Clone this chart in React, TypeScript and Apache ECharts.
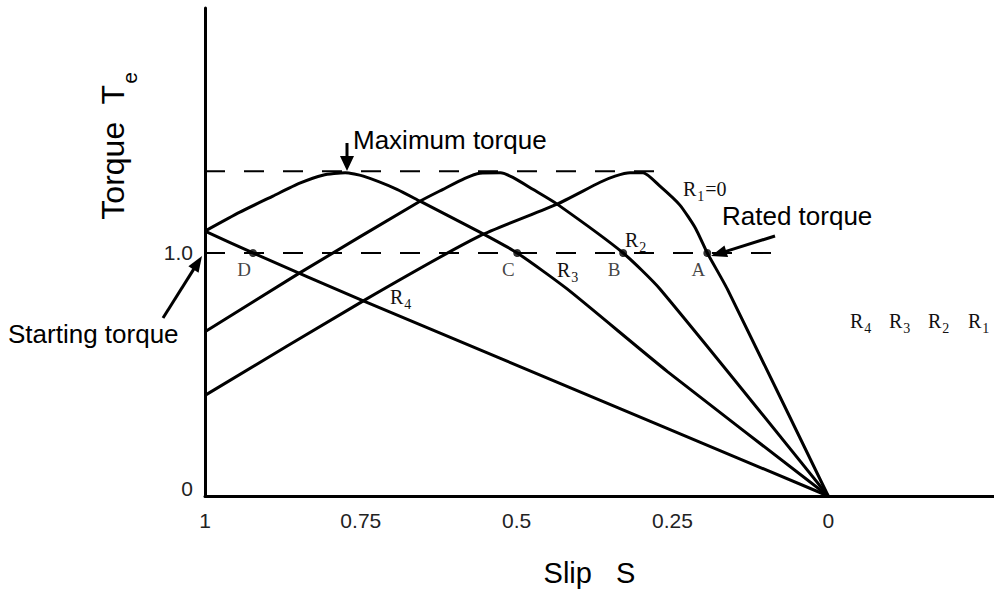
import React, { useEffect, useRef } from 'react';
import * as echarts from 'echarts';

// ---- data (slip S, torque Te) ----
const slipTicks = [1, 0.75, 0.5, 0.25, 0];
const torqueTicks = [0, 1];

const curveR1: [number, number][] = [
  [1, 0.414], [0.746, 0.803], [0.559, 1.07], [0.435, 1.201], [0.366, 1.291],
  [0.342, 1.316], [0.318, 1.33], [0.297, 1.33], [0.27, 1.275], [0.238, 1.197],
  [0.213, 1.102], [0.194, 1.0], [0.162, 0.852], [0, 0],
];
const curveR2: [number, number][] = [
  [1, 0.676], [0.848, 0.918], [0.655, 1.213], [0.618, 1.262], [0.583, 1.307],
  [0.559, 1.328], [0.526, 1.33], [0.506, 1.311], [0.474, 1.262], [0.435, 1.201],
  [0.329, 1.0], [0.27, 0.852], [0, 0],
];
const curveR3: [number, number][] = [
  [1, 1.09], [0.944, 1.168], [0.891, 1.234], [0.848, 1.287], [0.811, 1.32],
  [0.775, 1.33], [0.746, 1.316], [0.692, 1.262], [0.655, 1.213], [0.559, 1.086],
  [0.499, 1.0], [0.419, 0.852], [0.258, 0.512], [0, 0],
];
const curveR4: [number, number][] = [
  [1, 1.09], [0.923, 1.0], [0.746, 0.803], [0.526, 0.566], [0, 0],
];

const maxTorque = 1.336;
const maxLineSlips = [1, 0.278];
const ratedTorque = 1.0;
const ratedLineSlips = [1, 0.085];

const pointNames = ['D', 'C', 'B', 'A'];
const pointSlips = [0.923, 0.499, 0.329, 0.194];

const SANS = 'Liberation Sans, Arial, sans-serif';
const SERIF = 'Liberation Serif, Times New Roman, serif';

function rLabel(sub: string, tail = '') {
  return {
    text: `{r|R}{s|${sub}}` + (tail ? `{r|${tail}}` : ''),
    rich: {
      r: { fontFamily: SERIF, fontSize: 20, fill: '#111', lineHeight: 22, verticalAlign: 'top' },
      s: { fontFamily: SERIF, fontSize: 14, fill: '#111', lineHeight: 14, padding: [10, 1, 0, 1], verticalAlign: 'top' },
    },
    align: 'left',
    verticalAlign: 'middle',
  };
}

function arrowHead(tip: [number, number], tail: [number, number], len = 16, half = 6) {
  const dx = tip[0] - tail[0];
  const dy = tip[1] - tail[1];
  const l = Math.sqrt(dx * dx + dy * dy);
  const ux = dx / l, uy = dy / l;
  const bx = tip[0] - ux * len, by = tip[1] - uy * len;
  const px = -uy * half, py = ux * half;
  return [
    {
      type: 'line',
      shape: { x1: tail[0], y1: tail[1], x2: bx + ux * 2, y2: by + uy * 2 },
      style: { stroke: '#000', lineWidth: 3 },
    },
    {
      type: 'polygon',
      shape: { points: [[tip[0], tip[1]], [bx + px, by + py], [bx - px, by - py]] },
      style: { fill: '#000' },
    },
  ];
}

export default function App() {
  const ref = useRef<HTMLDivElement>(null);

  useEffect(() => {
    document.body.style.margin = '0';
    if (!ref.current) return;
    const chart = echarts.init(ref.current, null, { renderer: 'svg' });

    const curveSeries = [curveR1, curveR2, curveR3, curveR4].map((d, i) => ({
      type: 'line',
      name: 'R' + (i + 1),
      data: d,
      showSymbol: false,
      smooth: 0.2,
      lineStyle: { color: '#000', width: 3 },
      z: 3,
    }));

    const dashed = (slips: number[], t: number) => ({
      type: 'line',
      data: slips.map((s) => [s, t]),
      showSymbol: false,
      lineStyle: { color: '#000', width: 2, type: [20, 19] },
      z: 2,
    });

    const option: any = {
      animation: false,
      backgroundColor: '#fff',
      grid: { left: 205, right: 0, top: 8, bottom: 94, containLabel: false },
      xAxis: {
        type: 'value',
        min: -0.266,
        max: 1,
        inverse: true,
        axisLine: { show: true, onZero: false, lineStyle: { color: '#000', width: 3 } },
        axisTick: { show: false },
        splitLine: { show: false },
        axisLabel: {
          customValues: slipTicks,
          formatter: (v: number) => String(v),
          fontFamily: SANS,
          fontSize: 21,
          color: '#222',
          margin: 14,
          showMinLabel: true,
          showMaxLabel: true,
        },
        name: 'Slip   S',
        nameLocation: 'middle',
        nameGap: 62,
        nameTextStyle: { fontFamily: SANS, fontSize: 29, color: '#000', padding: [0, 20, 0, 0] },
      },
      yAxis: {
        type: 'value',
        min: 0,
        max: 2.008,
        axisLine: { show: true, onZero: false, lineStyle: { color: '#000', width: 3 } },
        axisTick: { show: false },
        splitLine: { show: false },
        axisLabel: {
          customValues: torqueTicks,
          formatter: (v: number) => (v === 0 ? '{z|0}' : '{o|1.0}'),
          margin: 12,
          rich: {
            z: { fontFamily: SANS, fontSize: 21, color: '#222', padding: [0, 0, 16, 0] },
            o: { fontFamily: SANS, fontSize: 21, color: '#222' },
          },
        },
      },
      series: [
        ...curveSeries,
        dashed(maxLineSlips, maxTorque),
        dashed(ratedLineSlips, ratedTorque),
        {
          type: 'scatter',
          data: pointNames.map((n, i) => ({ name: n, value: [pointSlips[i], ratedTorque] })),
          symbol: 'circle',
          symbolSize: 8,
          itemStyle: { color: '#000' },
          z: 5,
          label: {
            show: true,
            formatter: (p: any) => p.name,
            position: 'bottom',
            distance: 3,
            offset: [-9, 0],
            fontFamily: SERIF,
            fontSize: 19,
            color: '#111',
          },
        },
      ],
      graphic: [
        {
          type: 'text',
          x: 114,
          y: 146,
          rotation: Math.PI / 2,
          style: {
            text: '{a|Torque  T}{b|e}',
            rich: {
              a: { fontFamily: SANS, fontSize: 32, fill: '#000', lineHeight: 34, verticalAlign: 'top' },
              b: { fontFamily: SANS, fontSize: 21, fill: '#000', lineHeight: 21, padding: [22, 0, 0, 1], verticalAlign: 'top' },
            },
            align: 'center',
            verticalAlign: 'middle',
          },
        },
        { type: 'text', x: 353, y: 140, style: { text: 'Maximum torque', fontFamily: SANS, fontSize: 26, fill: '#000', align: 'left', verticalAlign: 'middle' } },
        { type: 'text', x: 722, y: 216, style: { text: 'Rated torque', fontFamily: SANS, fontSize: 26, fill: '#000', align: 'left', verticalAlign: 'middle' } },
        { type: 'text', x: 8, y: 334, style: { text: 'Starting torque', fontFamily: SANS, fontSize: 26, fill: '#000', align: 'left', verticalAlign: 'middle' } },
        ...arrowHead([347, 171], [347, 143], 15, 7),
        ...arrowHead([711, 256], [775, 236]),
        ...arrowHead([202, 256], [163, 318]),
        { type: 'text', x: 683, y: 190, style: rLabel('1', '=0') },
        { type: 'text', x: 625, y: 241, style: rLabel('2') },
        { type: 'text', x: 557, y: 271, style: rLabel('3') },
        { type: 'text', x: 390, y: 298, style: rLabel('4') },
        { type: 'text', x: 850, y: 322, style: rLabel('4') },
        { type: 'text', x: 889, y: 322, style: rLabel('3') },
        { type: 'text', x: 928, y: 322, style: rLabel('2') },
        { type: 'text', x: 968, y: 322, style: rLabel('1') },
      ],
    };

    chart.setOption(option);
    return () => chart.dispose();
  }, []);

  return <div ref={ref} style={{ width: 994, height: 592 }} />;
}
